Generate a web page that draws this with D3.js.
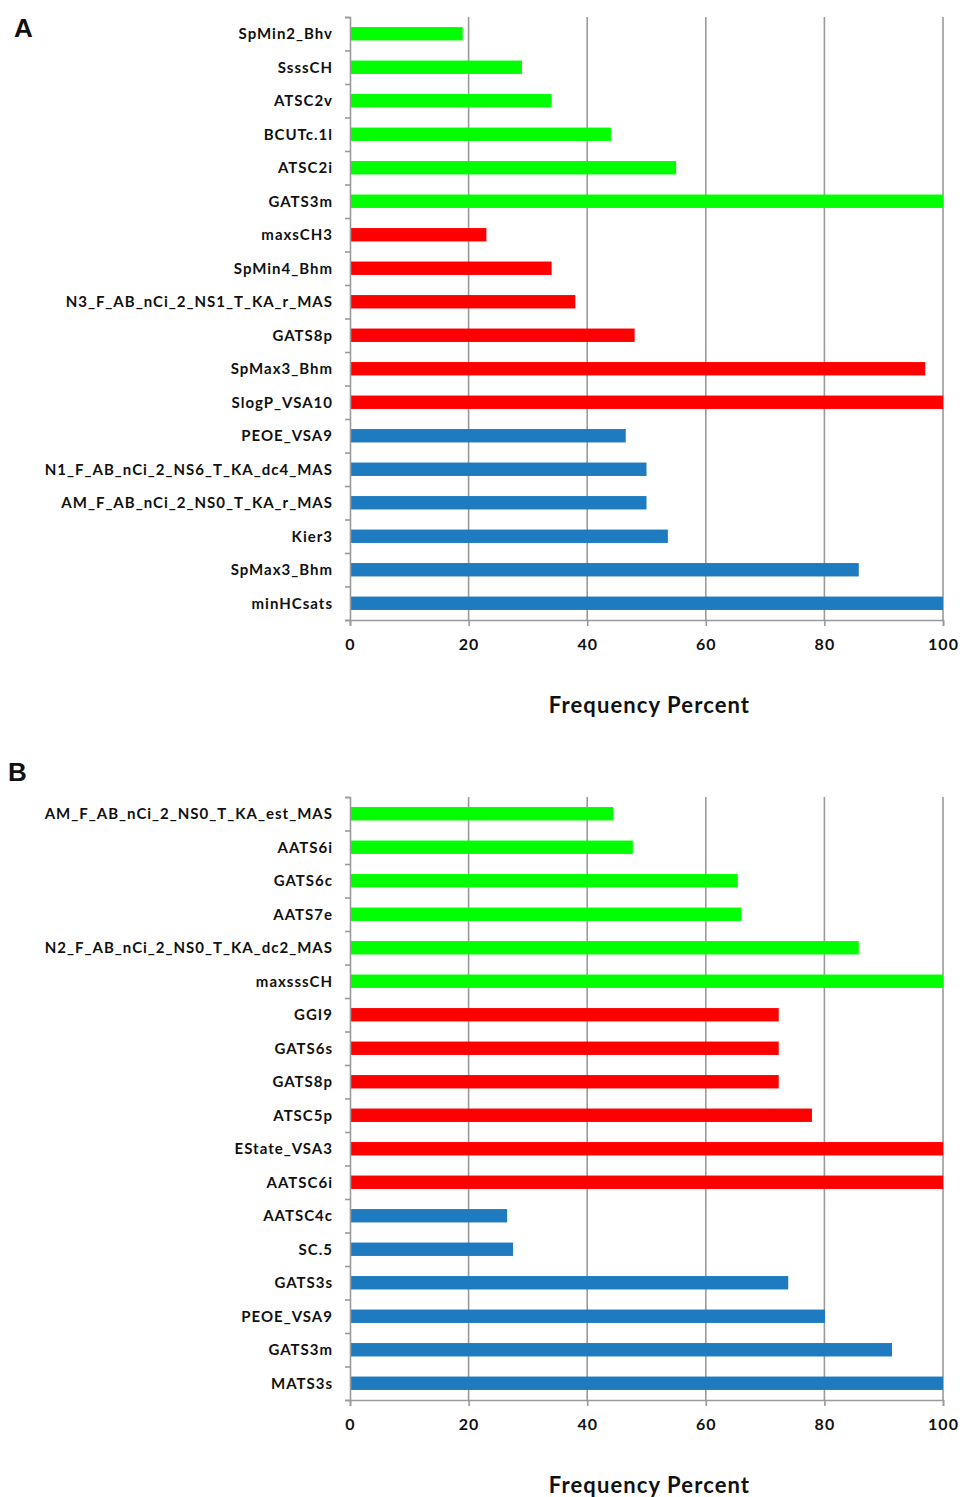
<!DOCTYPE html>
<html>
<head>
<meta charset="utf-8">
<script src="https://cdn.jsdelivr.net/npm/d3@7"></script>
<style>
  body { margin: 0; background: #fff; }
  text { font-family: Lato, "Open Sans", sans-serif; font-weight: bold; fill: #111; }
</style>
</head>
<body>
<script>
const labelsA = ["SpMin2_Bhv", "SsssCH", "ATSC2v", "BCUTc.1l", "ATSC2i", "GATS3m",
  "maxsCH3", "SpMin4_Bhm", "N3_F_AB_nCi_2_NS1_T_KA_r_MAS", "GATS8p", "SpMax3_Bhm", "SlogP_VSA10",
  "PEOE_VSA9", "N1_F_AB_nCi_2_NS6_T_KA_dc4_MAS", "AM_F_AB_nCi_2_NS0_T_KA_r_MAS", "Kier3", "SpMax3_Bhm", "minHCsats"];
const valuesA = [19, 29, 34, 44, 55, 100, 23, 34, 38, 48, 97, 100, 46.5, 50, 50, 53.6, 85.8, 100];
const groupsA = ["g", "g", "g", "g", "g", "g", "r", "r", "r", "r", "r", "r", "b", "b", "b", "b", "b", "b"];

const labelsB = ["AM_F_AB_nCi_2_NS0_T_KA_est_MAS", "AATS6i", "GATS6c", "AATS7e", "N2_F_AB_nCi_2_NS0_T_KA_dc2_MAS", "maxsssCH",
  "GGI9", "GATS6s", "GATS8p", "ATSC5p", "EState_VSA3", "AATSC6i",
  "AATSC4c", "SC.5", "GATS3s", "PEOE_VSA9", "GATS3m", "MATS3s"];
const valuesB = [44.4, 47.7, 65.4, 66, 85.8, 100, 72.3, 72.3, 72.3, 77.9, 100, 100, 26.5, 27.5, 73.9, 80.1, 91.4, 100];
const groupsB = ["g", "g", "g", "g", "g", "g", "r", "r", "r", "r", "r", "r", "b", "b", "b", "b", "b", "b"];

const xTicks = [0, 20, 40, 60, 80, 100];
const axisTitle = "Frequency Percent";

const W = 960, H = 1497;
const svg = d3.select("body").append("svg").attr("width", W).attr("height", H);

const color = d3.scaleOrdinal().domain(["g", "r", "b"]).range(["#00ff00", "#ff0000", "#1e7bbf"]);
const x = d3.scaleLinear().domain([0, 100]).range([350, 943]);

const drawPanel = (letter, letterPos, labels, values, groups, top, bottom) => {
  const g = svg.append("g");
  const idx = d3.range(labels.length);
  const y = d3.scaleBand().domain(idx).range([top, bottom]).paddingInner(0.6).paddingOuter(0.3);
  const yEdge = d3.scaleLinear().domain([0, labels.length]).range([top, bottom]);

  g.append("text").text(letter)
    .attr("x", letterPos[0]).attr("y", letterPos[1])
    .style("font-family", "Arial, 'Liberation Sans', sans-serif")
    .style("font-size", "26px");

  // vertical gridlines
  g.append("g").selectAll("line").data(xTicks.slice(1)).join("line")
    .attr("x1", d => x(d)).attr("x2", d => x(d))
    .attr("y1", top).attr("y2", bottom)
    .attr("stroke", "#9a9a9a").attr("stroke-width", 1.6);

  // bars
  g.append("g").selectAll("rect").data(idx).join("rect")
    .attr("x", x(0))
    .attr("y", i => y(i))
    .attr("width", i => x(values[i]) - x(0))
    .attr("height", y.bandwidth())
    .attr("fill", i => color(groups[i]));

  // left axis: boundary ticks
  const yAxis = g.append("g").attr("transform", `translate(${x(0)},0)`)
    .call(d3.axisLeft(yEdge).tickValues(d3.range(labels.length + 1)).tickSize(5).tickFormat(""));
  yAxis.select(".domain").attr("stroke", "#9a9a9a").attr("stroke-width", 1.6);
  yAxis.selectAll(".tick line").attr("stroke", "#9a9a9a").attr("stroke-width", 1.6);

  // category labels
  g.append("g").selectAll("text").data(idx).join("text")
    .attr("x", x(0) - 17)
    .attr("y", i => y(i) + y.bandwidth() / 2)
    .attr("dy", "0.35em")
    .attr("text-anchor", "end")
    .style("font-size", "15px")
    .style("letter-spacing", "1px")
    .text(i => labels[i]);

  // bottom axis
  const xAxis = g.append("g").attr("transform", `translate(0,${bottom})`)
    .call(d3.axisBottom(x).tickValues(xTicks).tickSize(6).tickPadding(13));
  xAxis.select(".domain").attr("stroke", "#9a9a9a").attr("stroke-width", 1.6);
  xAxis.selectAll(".tick line").attr("stroke", "#9a9a9a").attr("stroke-width", 1.6);
  xAxis.selectAll(".tick text").style("font-size", "16px").style("letter-spacing", "1px")
    .style("font-family", "Lato, 'Open Sans', sans-serif").style("font-weight", "bold").attr("fill", "#111");

  g.append("text").text(axisTitle)
    .attr("x", (x(0) + x(100)) / 2 + 3)
    .attr("y", bottom + 93)
    .attr("text-anchor", "middle")
    .style("font-size", "22px")
    .style("letter-spacing", "1.1px");
};

drawPanel("A", [14, 37], labelsA, valuesA, groupsA, 17, 620);
drawPanel("B", [8, 781], labelsB, valuesB, groupsB, 797, 1400);
</script>
</body>
</html>
